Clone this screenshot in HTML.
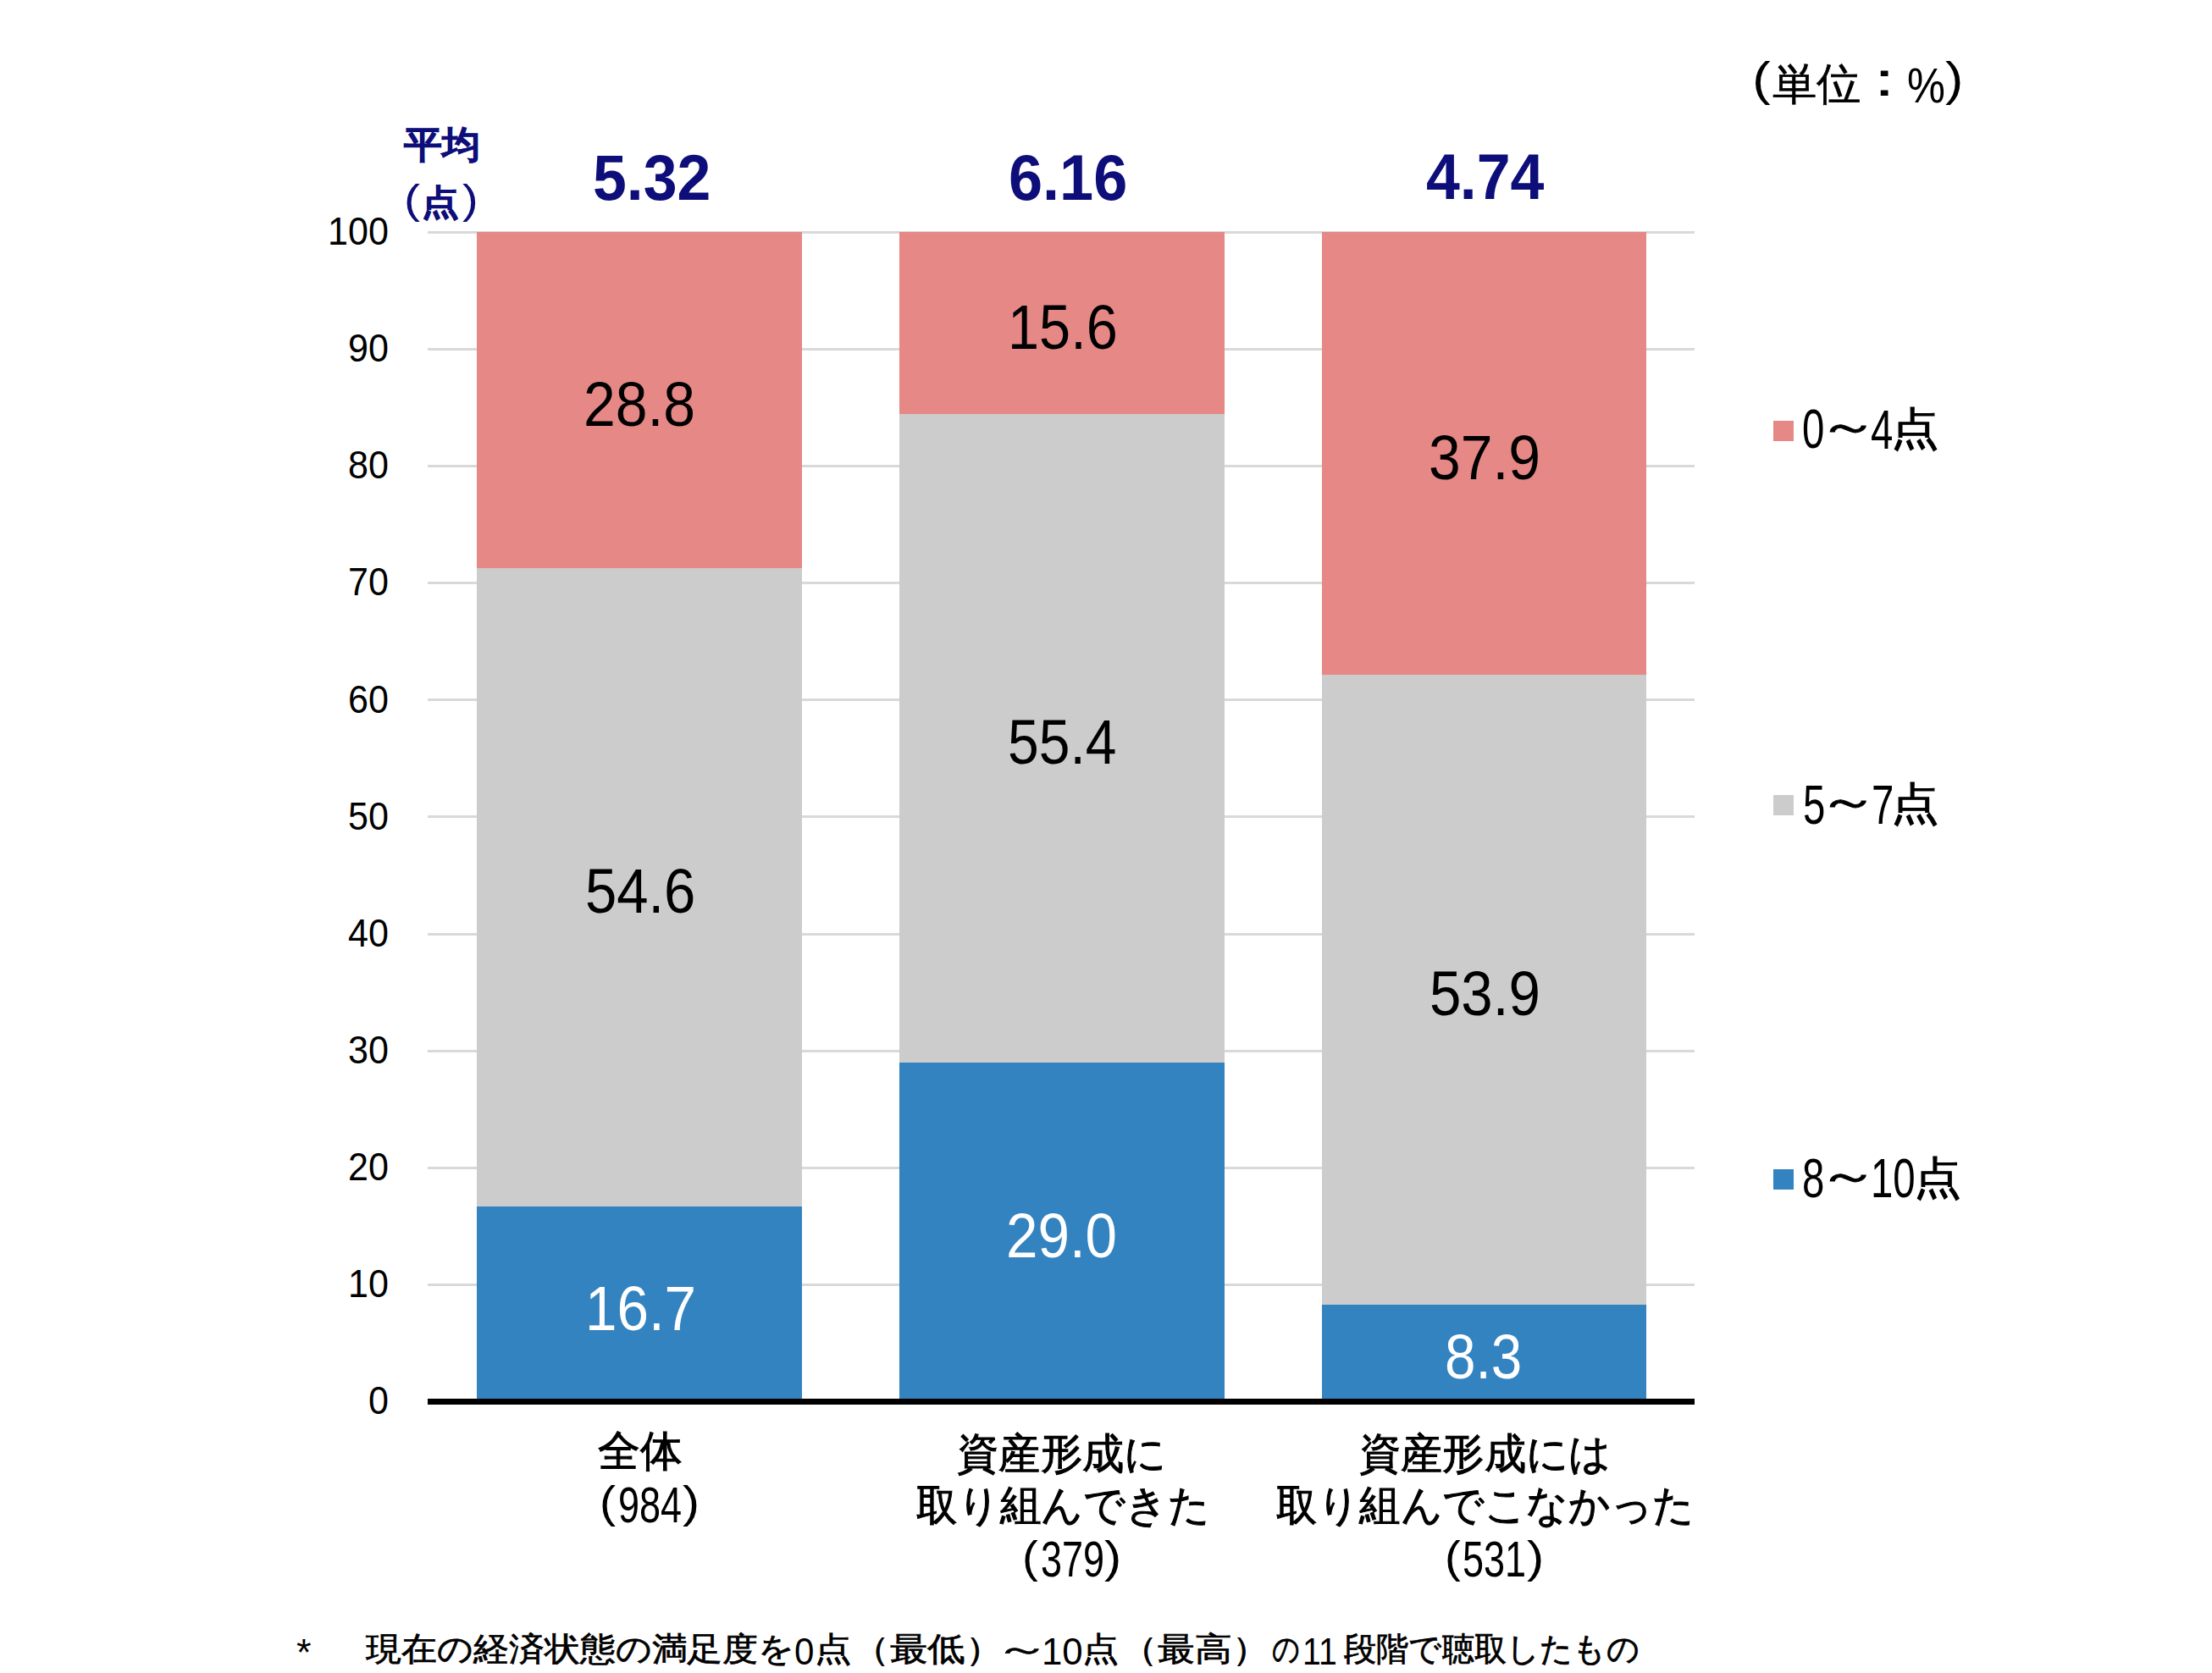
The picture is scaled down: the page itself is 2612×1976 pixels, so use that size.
<!DOCTYPE html>
<html lang="ja">
<head>
<meta charset="utf-8">
<style>
html,body{margin:0;padding:0;background:#fff;}
body{width:2612px;height:1976px;position:relative;overflow:hidden;font-family:"Liberation Sans",sans-serif;color:#000;}
.a{position:absolute;}
.g{position:absolute;left:505px;width:1496px;height:3px;background:#D9D9D9;}
.seg{position:absolute;}
.pk{background:#E58886;}
.gy{background:#CCCCCC;}
.bl{background:#3483C1;}
.t{position:absolute;white-space:nowrap;line-height:1;transform-origin:0 0;}
</style>
</head>
<body>
<!-- gridlines -->
<div class="g" style="top:273px"></div>
<div class="g" style="top:411px"></div>
<div class="g" style="top:549px"></div>
<div class="g" style="top:687px"></div>
<div class="g" style="top:825px"></div>
<div class="g" style="top:963px"></div>
<div class="g" style="top:1102px"></div>
<div class="g" style="top:1240px"></div>
<div class="g" style="top:1378px"></div>
<div class="g" style="top:1516px"></div>

<!-- bars -->
<div class="seg pk" style="left:563px;width:384px;top:274px;height:397px"></div>
<div class="seg gy" style="left:563px;width:384px;top:671px;height:754px"></div>
<div class="seg bl" style="left:563px;width:384px;top:1425px;height:230px"></div>

<div class="seg pk" style="left:1062px;width:384px;top:274px;height:215px"></div>
<div class="seg gy" style="left:1062px;width:384px;top:489px;height:766px"></div>
<div class="seg bl" style="left:1062px;width:384px;top:1255px;height:400px"></div>

<div class="seg pk" style="left:1561px;width:383px;top:274px;height:523px"></div>
<div class="seg gy" style="left:1561px;width:383px;top:797px;height:744px"></div>
<div class="seg bl" style="left:1561px;width:383px;top:1541px;height:114px"></div>

<!-- axis -->
<div class="a" style="left:505px;top:1652px;width:1496px;height:7px;background:#000"></div>

<!-- legend -->
<div class="seg pk" style="left:2094px;top:497px;width:24px;height:24px"></div>
<div class="seg gy" style="left:2094px;top:939px;width:24px;height:24px"></div>
<div class="seg bl" style="left:2094px;top:1381px;width:24px;height:24px"></div>
<div class="t" style="left:2068.6px;top:65.4px;font-size:56.3px;color:#000;transform:scaleX(1.157);">(</div>
<div class="t" style="left:2093px;top:72.7px;font-size:52.3px;color:#000;transform:scaleX(1.009);-webkit-text-stroke:0.6px currentColor;">単位</div>
<div class="t" style="left:2186.1px;top:63.9px;font-size:58.4px;color:#000;transform:scaleX(1.35);">：</div>
<div class="t" style="left:2251.6px;top:73.9px;font-size:56.6px;color:#000;transform:scaleX(0.893);">%</div>
<div class="t" style="left:2297px;top:65.4px;font-size:56.3px;color:#000;transform:scaleX(1.143);">)</div>
<div class="t" style="left:477.2px;top:149px;font-size:43.7px;color:#0E0E7A;transform:scaleX(1.02);font-weight:bold;-webkit-text-stroke:0.8px currentColor;">平均</div>
<div class="t" style="left:477.3px;top:211.5px;font-size:48.0px;color:#0E0E7A;transform:scaleX(1.192);">(</div>
<div class="t" style="left:498.1px;top:218.7px;font-size:40.7px;color:#0E0E7A;transform:scaleX(1.071);font-weight:bold;-webkit-text-stroke:0.8px currentColor;">点</div>
<div class="t" style="left:545.5px;top:211.5px;font-size:48.0px;color:#0E0E7A;transform:scaleX(1.167);">)</div>
<div class="t" style="left:700px;top:172.4px;font-size:75.8px;color:#0E0E7A;transform:scaleX(0.945);font-weight:bold;">5.32</div>
<div class="t" style="left:1191px;top:172px;font-size:75.8px;color:#0E0E7A;transform:scaleX(0.951);font-weight:bold;">6.16</div>
<div class="t" style="left:1684px;top:171px;font-size:75.8px;color:#0E0E7A;transform:scaleX(0.945);font-weight:bold;">4.74</div>
<div class="t" style="left:689.4px;top:441px;font-size:74.5px;color:#000;transform:scaleX(0.911);">28.8</div>
<div class="t" style="left:690.6px;top:1016px;font-size:74.5px;color:#000;transform:scaleX(0.899);">54.6</div>
<div class="t" style="left:691px;top:1508.7px;font-size:74.5px;color:#fff;transform:scaleX(0.904);">16.7</div>
<div class="t" style="left:1189.8px;top:349.8px;font-size:74.5px;color:#000;transform:scaleX(0.895);">15.6</div>
<div class="t" style="left:1189.8px;top:839.7px;font-size:74.5px;color:#000;transform:scaleX(0.886);">55.4</div>
<div class="t" style="left:1188.2px;top:1423px;font-size:74.5px;color:#fff;transform:scaleX(0.904);">29.0</div>
<div class="t" style="left:1686.5px;top:504px;font-size:74.5px;color:#000;transform:scaleX(0.911);">37.9</div>
<div class="t" style="left:1687.7px;top:1136.9px;font-size:74.5px;color:#000;transform:scaleX(0.902);">53.9</div>
<div class="t" style="left:1705.6px;top:1565.9px;font-size:74.5px;color:#fff;transform:scaleX(0.881);">8.3</div>
<div class="t" style="left:706px;top:1689px;font-size:49.5px;color:#000;transform:scaleX(0.994);-webkit-text-stroke:1px currentColor;">全体</div>
<div class="t" style="left:1130.4px;top:1691.8px;font-size:49.5px;color:#000;transform:scaleX(0.985);-webkit-text-stroke:1px currentColor;">資産形成に</div>
<div class="t" style="left:1082px;top:1752.5px;font-size:49.5px;color:#000;transform:scaleX(0.976);-webkit-text-stroke:1px currentColor;">取り組んできた</div>
<div class="t" style="left:1605.4px;top:1691.6px;font-size:49.5px;color:#000;transform:scaleX(0.984);-webkit-text-stroke:1px currentColor;">資産形成には</div>
<div class="t" style="left:1507px;top:1753px;font-size:49.5px;color:#000;transform:scaleX(0.972);-webkit-text-stroke:1px currentColor;">取り組んでこなかった</div>
<div class="t" style="left:707.5px;top:1749.4px;font-size:51.6px;color:#000;transform:scaleX(1.107);">(</div>
<div class="t" style="left:730.0px;top:1748.0px;font-size:60px;color:#000;transform:scaleX(0.75);">984</div>
<div class="t" style="left:806.0px;top:1749.4px;font-size:51.6px;color:#000;transform:scaleX(1.169);">)</div>
<div class="t" style="left:1206.6px;top:1813.5px;font-size:51.6px;color:#000;transform:scaleX(1.093);">(</div>
<div class="t" style="left:1228.6px;top:1812.2px;font-size:60px;color:#000;transform:scaleX(0.75);">379</div>
<div class="t" style="left:1303.9px;top:1813.5px;font-size:51.6px;color:#000;transform:scaleX(1.177);">)</div>
<div class="t" style="left:1705.7px;top:1813.5px;font-size:51.6px;color:#000;transform:scaleX(1.093);">(</div>
<div class="t" style="left:1727.4px;top:1812.2px;font-size:60px;color:#000;transform:scaleX(0.75);">531</div>
<div class="t" style="left:1803.0px;top:1813.5px;font-size:51.6px;color:#000;transform:scaleX(1.177);">)</div>
<div class="t" style="left:2128.2px;top:475.1px;font-size:64px;color:#000;transform:scaleX(0.74);">0</div>
<div class="t" style="left:2146.9px;top:477.1px;font-size:52.3px;color:#000;transform:scaleX(1.365);-webkit-text-stroke:1px currentColor;">～</div>
<div class="t" style="left:2208.9px;top:475.7px;font-size:64px;color:#000;transform:scaleX(0.74);">4</div>
<div class="t" style="left:2232.7px;top:480.2px;font-size:52.3px;color:#000;transform:scaleX(1.091);-webkit-text-stroke:1px currentColor;">点</div>
<div class="t" style="left:2128.9px;top:919px;font-size:64px;color:#000;transform:scaleX(0.74);">5</div>
<div class="t" style="left:2146.9px;top:920.1px;font-size:52.3px;color:#000;transform:scaleX(1.365);-webkit-text-stroke:1px currentColor;">～</div>
<div class="t" style="left:2210px;top:919px;font-size:64px;color:#000;transform:scaleX(0.74);">7</div>
<div class="t" style="left:2232.7px;top:923.1px;font-size:52.3px;color:#000;transform:scaleX(1.091);-webkit-text-stroke:1px currentColor;">点</div>
<div class="t" style="left:2128.2px;top:1359.8px;font-size:64px;color:#000;transform:scaleX(0.74);">8</div>
<div class="t" style="left:2146.9px;top:1362.4px;font-size:52.3px;color:#000;transform:scaleX(1.365);-webkit-text-stroke:1px currentColor;">～</div>
<div class="t" style="left:2208.8px;top:1360.4px;font-size:64px;color:#000;transform:scaleX(0.74);">10</div>
<div class="t" style="left:2259.9px;top:1364.9px;font-size:52.3px;color:#000;transform:scaleX(1.081);-webkit-text-stroke:1px currentColor;">点</div>
<div class="t" style="left:349.9px;top:1929.8px;font-size:44.6px;color:#000;transform:scaleX(1.013);">*</div>
<div class="t" style="left:432.2px;top:1928.3px;font-size:39px;color:#000;transform:scaleX(1.075);-webkit-text-stroke:0.7px currentColor;">現在の経済状態の満足度を</div>
<div class="t" style="left:937.7px;top:1929.4px;font-size:44.4px;color:#000;transform:scaleX(0.948);">0</div>
<div class="t" style="left:962px;top:1928.3px;font-size:39px;color:#000;transform:scaleX(1.118);-webkit-text-stroke:0.7px currentColor;">点</div>
<div class="t" style="left:1005.6px;top:1928.3px;font-size:39px;color:#000;transform:scaleX(1.143);-webkit-text-stroke:0.7px currentColor;">（最低）</div>
<div class="t" style="left:1174.4px;top:1928.3px;font-size:39px;color:#000;transform:scaleX(1.691);-webkit-text-stroke:0.7px currentColor;">～</div>
<div class="t" style="left:1229.6px;top:1929.4px;font-size:44.4px;color:#000;transform:scaleX(0.987);">10</div>
<div class="t" style="left:1277.8px;top:1928.3px;font-size:39px;color:#000;transform:scaleX(1.109);-webkit-text-stroke:0.7px currentColor;">点</div>
<div class="t" style="left:1323.4px;top:1928.3px;font-size:39px;color:#000;transform:scaleX(1.125);-webkit-text-stroke:0.7px currentColor;">（最高）</div>
<div class="t" style="left:1502.3px;top:1928.3px;font-size:39px;color:#000;transform:scaleX(0.83);-webkit-text-stroke:0.7px currentColor;">の</div>
<div class="t" style="left:1538.2px;top:1929.4px;font-size:44.4px;color:#000;transform:scaleX(0.883);">11</div>
<div class="t" style="left:1586.5px;top:1928.3px;font-size:39px;color:#000;transform:scaleX(0.98);-webkit-text-stroke:0.7px currentColor;">段階で聴取したもの</div>
<div class="t" style="left:387.3px;top:251.1px;font-size:45.8px;color:#000;transform:scaleX(0.94);">100</div>
<div class="t" style="left:411.3px;top:389.2px;font-size:45.8px;color:#000;transform:scaleX(0.94);">90</div>
<div class="t" style="left:411.3px;top:527.3px;font-size:45.8px;color:#000;transform:scaleX(0.94);">80</div>
<div class="t" style="left:411.3px;top:665.4px;font-size:45.8px;color:#000;transform:scaleX(0.94);">70</div>
<div class="t" style="left:411.3px;top:803.5px;font-size:45.8px;color:#000;transform:scaleX(0.94);">60</div>
<div class="t" style="left:411.3px;top:941.6px;font-size:45.8px;color:#000;transform:scaleX(0.94);">50</div>
<div class="t" style="left:411.3px;top:1079.7px;font-size:45.8px;color:#000;transform:scaleX(0.94);">40</div>
<div class="t" style="left:411.3px;top:1217.8px;font-size:45.8px;color:#000;transform:scaleX(0.94);">30</div>
<div class="t" style="left:411.3px;top:1355.9px;font-size:45.8px;color:#000;transform:scaleX(0.94);">20</div>
<div class="t" style="left:411.3px;top:1494.0px;font-size:45.8px;color:#000;transform:scaleX(0.94);">10</div>
<div class="t" style="left:435.3px;top:1632.1px;font-size:45.8px;color:#000;transform:scaleX(0.94);">0</div>
</body>
</html>
